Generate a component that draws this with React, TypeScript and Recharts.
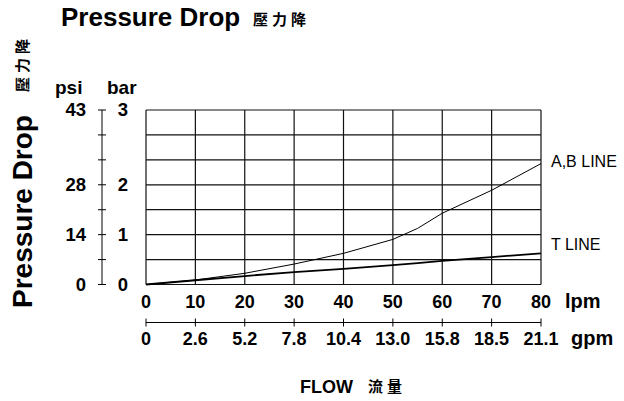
import React from "react";
import { LineChart, Line, XAxis, YAxis, CartesianGrid } from "recharts";

// Flow in lpm (x categories)
const flowLpm = [0, 10, 20, 30, 40, 50, 55, 60, 70, 80];
// Pressure drop in chart grid divisions (7 divisions: 1 bar = 2 div, 2 bar = 4 div, 3 bar = 7 div)
const abLine = [0, 0.18, 0.45, 0.82, 1.25, 1.81, 2.25, 2.86, 3.78, 4.85];
const tLine = [0, 0.17, 0.34, 0.5, 0.63, 0.78, 0.86, 0.95, 1.1, 1.25];

const lpmTicks = [0, 10, 20, 30, 40, 50, 60, 70, 80];
const gpmLabels = ["0", "2.6", "5.2", "7.8", "10.4", "13.0", "15.8", "18.5", "21.1"];
const yTicks = [0, 1, 2, 3, 4, 5, 6, 7];
const psiLabels = ["0", "", "14", "", "28", "", "", "43"];
const barLabels = ["0", "", "1", "", "2", "", "", "3"];

const data = flowLpm.map((f, i) => ({ flow: f, ab: abLine[i], t: tLine[i] }));

const FONT = "'Liberation Sans', Arial, sans-serif";
const CJK = "'Noto Sans CJK TC', 'Noto Sans CJK SC', sans-serif";

const PsiTick = (props: any) => {
  const { x, y, payload } = props;
  const idx = yTicks.indexOf(payload.value);
  const label = psiLabels[idx] ?? "";
  return (
    <g>
      <line x1={x - 4} x2={x + 4} y1={y} y2={y} stroke="#000" strokeWidth={1} />
      <text x={x - 16} y={y + 6} textAnchor="end" fontFamily={FONT} fontWeight="bold" fontSize={18.5} fill="#000">
        {label}
      </text>
    </g>
  );
};

const BarTick = (props: any) => {
  const { x, y, payload } = props;
  const idx = yTicks.indexOf(payload.value);
  const label = barLabels[idx] ?? "";
  return (
    <text x={x - 23} y={y + 6} textAnchor="middle" fontFamily={FONT} fontWeight="bold" fontSize={18.5} fill="#000">
      {label}
    </text>
  );
};

const LpmTick = (props: any) => {
  const { x, y, payload } = props;
  return (
    <text x={x} y={y + 23.5} textAnchor="middle" fontFamily={FONT} fontWeight="bold" fontSize={18} fill="#000">
      {String(payload.value)}
    </text>
  );
};

const GpmTick = (props: any) => {
  const { x, y, payload } = props;
  const idx = lpmTicks.indexOf(payload.value);
  return (
    <g>
      <line x1={x} x2={x} y1={y - 4} y2={y + 4} stroke="#000" strokeWidth={1} />
      <text x={x} y={y + 22.5} textAnchor="middle" fontFamily={FONT} fontWeight="bold" fontSize={18} fill="#000">
        {gpmLabels[idx] ?? ""}
      </text>
    </g>
  );
};

export default function App() {
  return (
    <div style={{ position: "absolute", left: 0, top: 0, width: 624, height: 401, background: "#fff" }}>
      <LineChart
        width={624}
        height={401}
        data={data}
        margin={{ top: 110, right: 83, bottom: 48.5, left: 42 }}
      >
        <CartesianGrid xAxisId="a_lpm" yAxisId="a_bar" stroke="#111" strokeWidth={1.2} />
        <XAxis
          xAxisId="a_lpm"
          dataKey="flow"
          type="number"
          domain={[0, 80]}
          ticks={lpmTicks}
          axisLine={false}
          tickLine={false}
          tickSize={0}
          tickMargin={0}
          height={38}
          tick={<LpmTick />}
          interval={0}
        />
        <XAxis
          xAxisId="b_gpm"
          dataKey="flow"
          type="number"
          domain={[0, 80]}
          ticks={lpmTicks}
          axisLine={{ stroke: "#000", strokeWidth: 1 }}
          tickLine={false}
          tickSize={0}
          tickMargin={0}
          height={30}
          tick={<GpmTick />}
          interval={0}
        />
        <YAxis
          yAxisId="a_bar"
          dataKey="ab"
          type="number"
          domain={[0, 7]}
          ticks={yTicks}
          axisLine={false}
          tickLine={false}
          tickSize={0}
          tickMargin={0}
          width={44}
          tick={<BarTick />}
          interval={0}
        />
        <YAxis
          yAxisId="b_psi"
          dataKey="ab"
          type="number"
          domain={[0, 7]}
          ticks={yTicks}
          axisLine={{ stroke: "#000", strokeWidth: 1 }}
          tickLine={false}
          tickSize={0}
          tickMargin={0}
          width={60}
          tick={<PsiTick />}
          interval={0}
        />
        <Line
          xAxisId="a_lpm"
          yAxisId="a_bar"
          dataKey="ab"
          type="linear"
          stroke="#000"
          strokeWidth={1}
          dot={false}
          isAnimationActive={false}
        />
        <Line
          xAxisId="a_lpm"
          yAxisId="a_bar"
          dataKey="t"
          type="linear"
          stroke="#000"
          strokeWidth={1.8}
          dot={false}
          isAnimationActive={false}
        />
      </LineChart>
      <svg
        width={624}
        height={401}
        style={{ position: "absolute", left: 0, top: 0, pointerEvents: "none" }}
      >
        <text x={61} y={26} fontFamily={FONT} fontWeight="bold" fontSize={26} fill="#000">
          Pressure Drop
        </text>
        <text x={253} y={25} fontFamily={CJK} fontWeight={600} fontSize={15} letterSpacing={4} fill="#000">
          壓力降
        </text>
        <text transform="translate(32,308) rotate(-90)" fontFamily={FONT} fontWeight="bold" fontSize={28} fill="#000">
          Pressure Drop
        </text>
        <text transform="translate(28,92) rotate(-90)" fontFamily={CJK} fontWeight={600} fontSize={15} letterSpacing={4} fill="#000">
          壓力降
        </text>
        <text x={55} y={94} fontFamily={FONT} fontWeight="bold" fontSize={19} fill="#000">
          psi
        </text>
        <text x={107} y={94} fontFamily={FONT} fontWeight="bold" fontSize={19} fill="#000">
          bar
        </text>
        <text x={551} y={167} fontFamily={FONT} fontSize={16} fill="#000">
          A,B LINE
        </text>
        <text x={551} y={250} fontFamily={FONT} fontSize={16} fill="#000">
          T LINE
        </text>
        <text x={565} y={308} fontFamily={FONT} fontWeight="bold" fontSize={20} fill="#000">
          lpm
        </text>
        <text x={571} y={345} fontFamily={FONT} fontWeight="bold" fontSize={20} fill="#000">
          gpm
        </text>
        <text x={300} y={393} fontFamily={FONT} fontWeight="bold" fontSize={18} fill="#000">
          FLOW
        </text>
        <text x={368} y={392} fontFamily={CJK} fontWeight={600} fontSize={15} letterSpacing={4} fill="#000">
          流量
        </text>
      </svg>
    </div>
  );
}
